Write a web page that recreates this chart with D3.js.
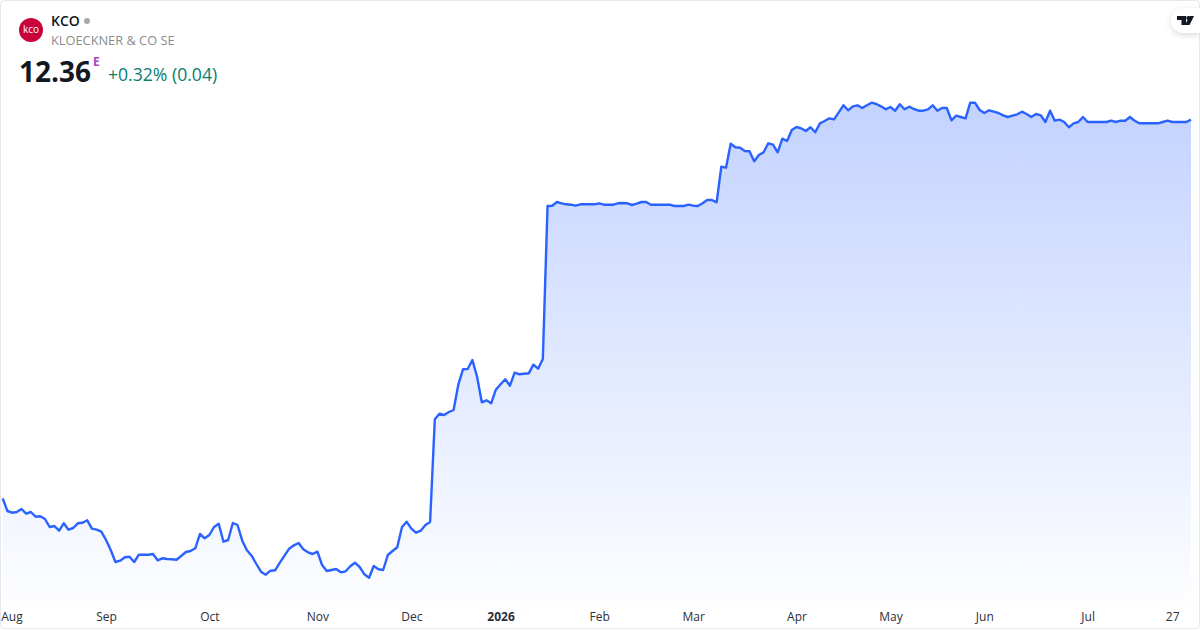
<!DOCTYPE html>
<html>
<head>
<meta charset="utf-8">
<script src="https://cdn.jsdelivr.net/npm/d3@7"></script>
<style>
	html, body { margin: 0; padding: 0; background: #fff; }
	svg { display: block; font-family: "Open Sans", sans-serif; }
</style>
</head>
<body>
<svg id="chart"></svg>
<script>
const width = 1200;
const height = 630;

const ticker = "KCO";
const companyName = "KLOECKNER & CO SE";
const lastPrice = "12.36";
const priceChange = "+0.32% (0.04)";

// daily closes, Aug -> late Jul
const closes = [
	8.577, 8.45, 8.433, 8.44, 8.47, 8.423, 8.44, 8.393, 8.397, 8.37, 8.29, 8.30, 8.253, 8.327, 8.263, 8.28,
	8.327, 8.333, 8.357, 8.273, 8.263, 8.243, 8.16, 8.06, 7.94, 7.953, 7.987, 7.993, 7.94, 8.013, 8.013, 8.013,
	8.02, 7.957, 7.977, 7.97, 7.967, 7.963, 8.00, 8.04, 8.05, 8.077, 8.22, 8.177, 8.21, 8.29, 8.323,
	8.143, 8.16, 8.33, 8.31, 8.153, 8.057, 8.003, 7.92, 7.843, 7.813, 7.853, 7.857, 7.933, 8.003, 8.073,
	8.107, 8.13, 8.067, 8.037, 8.02, 8.043, 7.91, 7.85, 7.86, 7.87, 7.837, 7.847, 7.897, 7.933, 7.89,
	7.817, 7.783, 7.90, 7.867, 7.86, 8.01, 8.05, 8.087, 8.287, 8.343, 8.273, 8.233, 8.253, 8.31, 8.34,
	9.367, 9.423, 9.41, 9.44, 9.46, 9.713, 9.867, 9.87, 9.96, 9.793, 9.537, 9.557, 9.527, 9.663, 9.717,
	9.767, 9.703, 9.833, 9.817, 9.823, 9.827, 9.913, 9.873, 9.97,
	11.50, 11.503, 11.54, 11.527, 11.517, 11.513, 11.503, 11.517, 11.517, 11.517, 11.517, 11.527, 11.513,
	11.513, 11.513, 11.527, 11.53, 11.527, 11.51, 11.523, 11.54, 11.54, 11.513, 11.513, 11.513, 11.513,
	11.513, 11.50, 11.50, 11.50, 11.513, 11.503, 11.50, 11.527, 11.56, 11.56, 11.537,
	11.893, 11.883, 12.123, 12.087, 12.083, 12.05, 12.047, 11.947, 12.01, 12.037, 12.127, 12.113, 12.037,
	12.173, 12.15, 12.26, 12.29, 12.277, 12.25, 12.287, 12.237, 12.327, 12.35, 12.377, 12.367, 12.437,
	12.507, 12.457, 12.497, 12.507, 12.48, 12.507, 12.533, 12.52, 12.497, 12.467, 12.49, 12.453, 12.517,
	12.467, 12.493, 12.47, 12.453, 12.453, 12.467, 12.507, 12.453, 12.48, 12.48,
	12.357, 12.403, 12.39, 12.377, 12.533, 12.533, 12.46, 12.43, 12.457, 12.443, 12.43, 12.407, 12.39,
	12.403, 12.417, 12.443, 12.42, 12.39, 12.42, 12.407, 12.34, 12.453, 12.353, 12.363, 12.34, 12.287,
	12.327, 12.34, 12.39, 12.34, 12.34, 12.34, 12.34, 12.34, 12.353, 12.34, 12.353, 12.353, 12.39, 12.353,
	12.327, 12.327, 12.327, 12.327, 12.327, 12.34, 12.353, 12.34, 12.34, 12.34, 12.34, 12.363,
];

const tickIndexes = [0, 22, 44, 67, 87, 106, 127, 147, 169, 189, 209, 231, 249];
const tickLabels = ["Aug", "Sep", "Oct", "Nov", "Dec", "2026", "Feb", "Mar", "Apr", "May", "Jun", "Jul", "27"];

const svg = d3.select("#chart").attr("width", width).attr("height", height);

const x = d3.scaleLinear().domain([0, closes.length - 1]).range([2.7, 1191]);
const y = d3.scaleLinear().domain([7.26, 13.56]).range([height, 0]);
const baseY = 602;

const defs = svg.append("defs");
const grad = defs.append("linearGradient")
	.attr("id", "areaFill")
	.attr("gradientUnits", "userSpaceOnUse")
	.attr("x1", 0).attr("x2", 0)
	.attr("y1", y(d3.max(closes))).attr("y2", baseY);
grad.append("stop").attr("offset", "0%").attr("stop-color", "#2962ff").attr("stop-opacity", 0.28);
grad.append("stop").attr("offset", "100%").attr("stop-color", "#2962ff").attr("stop-opacity", 0.01);

// area + line
svg.append("path")
	.datum(closes)
	.attr("fill", "url(#areaFill)")
	.attr("d", d3.area().x((d, i) => x(i)).y0(baseY).y1((d) => y(d)));

svg.append("path")
	.datum(closes)
	.attr("fill", "none")
	.attr("stroke", "#2962ff")
	.attr("stroke-width", 2.4)
	.attr("stroke-linejoin", "round")
	.attr("d", d3.line().x((d, i) => x(i)).y((d) => y(d)));

// time axis
const axis = svg.append("g")
	.attr("transform", `translate(0,${baseY})`)
	.call(d3.axisBottom(x)
		.tickValues(tickIndexes)
		.tickSize(0)
		.tickPadding(10)
		.tickFormat((d, i) => tickLabels[i]));
axis.select(".domain").remove();
axis.selectAll("text")
	.attr("font-family", '"Open Sans", sans-serif')
	.attr("font-size", 12)
	.attr("fill", "#2a2e39")
	.attr("font-weight", (d, i) => (tickLabels[i] === "2026" ? 700 : 400))
	.attr("text-anchor", (d, i) => (i === 0 ? "start" : "middle"))
	.attr("dx", (d, i) => (i === 0 ? -2 : 0));

// card border
svg.append("rect")
	.attr("x", 0.5).attr("y", 0.5)
	.attr("width", width - 1).attr("height", height - 2)
	.attr("rx", 4)
	.attr("fill", "none")
	.attr("stroke", "#e6e8ee");

// header
const logo = svg.append("g").attr("transform", "translate(31,30)");
logo.append("circle").attr("r", 12).attr("fill", "#c8033c");
logo.append("text")
	.attr("text-anchor", "middle").attr("y", 3)
	.attr("font-size", 10).attr("fill", "#fff")
	.text("kco");

svg.append("text").attr("x", 51).attr("y", 26)
	.attr("font-size", 14).attr("font-weight", 600).attr("fill", "#131722")
	.text(ticker);
svg.append("circle").attr("cx", 87).attr("cy", 21).attr("r", 3).attr("fill", "#a8a8a8");
svg.append("text").attr("x", 51).attr("y", 45)
	.attr("font-size", 12.8).attr("fill", "#8c8c8c")
	.text(companyName);
svg.append("text").attr("x", 19).attr("y", 82)
	.attr("font-size", 28).attr("font-weight", 700).attr("fill", "#131722")
	.text(lastPrice);
svg.append("text").attr("x", 93).attr("y", 66)
	.attr("font-size", 12).attr("font-weight", 700).attr("fill", "#ab47bc")
	.text("E");
svg.append("text").attr("x", 108).attr("y", 81)
	.attr("font-size", 17.6).attr("fill", "#057f6c")
	.text(priceChange);

// tradingview badge
defs.append("filter").attr("id", "badgeShadow")
	.attr("x", "-30%").attr("y", "-30%").attr("width", "160%").attr("height", "170%")
	.append("feDropShadow")
	.attr("dx", 0).attr("dy", 2).attr("stdDeviation", 3)
	.attr("flood-color", "#000").attr("flood-opacity", 0.15);
svg.append("path")
	.attr("d", "M1200 8H1184a13 12.500 0 0 0 0 25H1200Z")
	.attr("fill", "#fff")
	.attr("filter", "url(#badgeShadow)");
svg.append("path")
	.attr("fill", "#131722")
	.attr("d", "M1177 16h9v9h-4.500v-5h-4.500Z M1189.500 16h4.500l-4.500 9h-4.500Z");
svg.append("circle").attr("cx", 1188.200).attr("cy", 18).attr("r", 2).attr("fill", "#131722");
</script>
</body>
</html>
